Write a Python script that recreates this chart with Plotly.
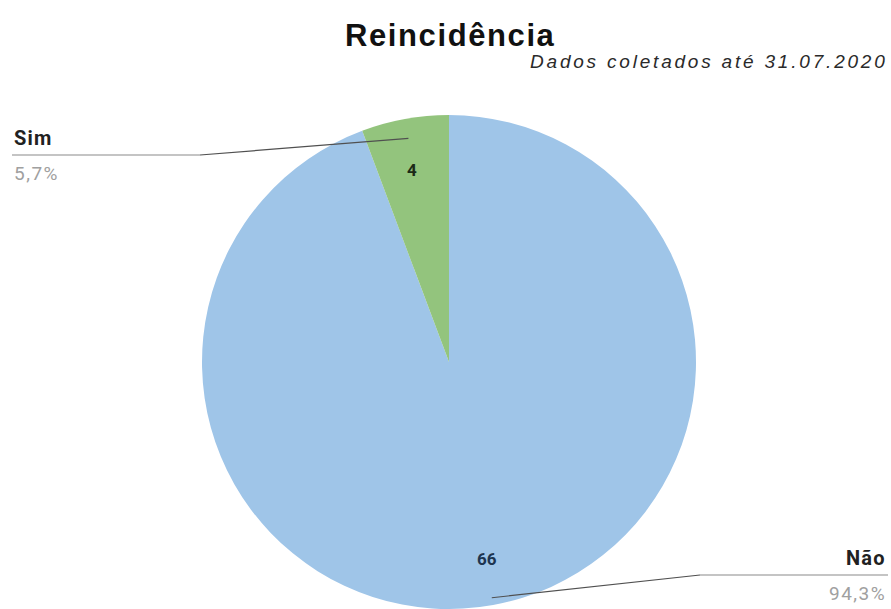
import math
import plotly.graph_objects as go

# Data
labels = ["Não", "Sim"]
values = [66, 4]
colors = ["#9fc5e8", "#93c47d"]
pct_labels = ["94,3%", "5,7%"]
title_text = "Reincidência"
subtitle_text = "Dados coletados até 31.07.2020"

W, H = 891, 609
cx, cy, R = 449, 362, 247  # pie centre and radius (px)


def px(x, y):
    """pixel -> paper coordinates"""
    return x / W, 1 - y / H


def spaced(text, sp):
    return f'<span style="letter-spacing:{sp}px">{text}</span>'


fig = go.Figure(
    go.Pie(
        labels=labels,
        values=values,
        sort=False,
        direction="clockwise",
        rotation=0,
        marker=dict(colors=colors, line=dict(width=0)),
        textinfo="none",
        hoverinfo="label+value+percent",
        domain=dict(x=[(cx - R) / W, (cx + R) / W], y=[1 - (cy + R) / H, 1 - (cy - R) / H]),
        showlegend=False,
    )
)

total = sum(values)
mids = []
acc = 0
for v in values:
    frac = v / total
    mids.append((acc + frac / 2) * 2 * math.pi)
    acc += frac


def on_pie(angle, r):
    return cx + r * math.sin(angle), cy - r * math.cos(angle)


annotations = []
shapes = []

# value labels inside the slices
value_style = {
    "Não": dict(r=0.86, color="#1d3550"),
    "Sim": dict(r=0.84, color="#1c2a17"),
}
for lab, v, a in zip(labels, values, mids):
    st = value_style[lab]
    x, y = on_pie(a, st["r"] * R)
    xp, yp = px(x, y)
    annotations.append(dict(x=xp, y=yp, xref="paper", yref="paper", text=f"<b>{v}</b>", showarrow=False,
                            font=dict(family="Roboto, Arial", size=17, color=st["color"])))

# leader lines and outside labels
leader = {
    "Sim": dict(r=0.92, elbow=(200, 155), end=(12, 155), side="left"),
    "Não": dict(r=0.97, elbow=(700, 575), end=(888, 575), side="right"),
}
for lab, pct, a in zip(labels, pct_labels, mids):
    cfg = leader[lab]
    sx, sy = on_pie(a, cfg["r"] * R)
    p0, p1, p2 = px(sx, sy), px(*cfg["elbow"]), px(*cfg["end"])
    shapes.append(dict(type="line", xref="paper", yref="paper", x0=p0[0], y0=p0[1], x1=p1[0], y1=p1[1],
                       line=dict(color="#505050", width=1.2)))
    shapes.append(dict(type="line", xref="paper", yref="paper", x0=p1[0], y0=p1[1], x1=p2[0], y1=p2[1],
                       line=dict(color="#8a8a8a", width=1.2)))
    ex, ey = cfg["end"]
    anchor = "left" if cfg["side"] == "left" else "right"
    xp, yp_top = px(ex, ey - 3)
    annotations.append(dict(x=xp, y=yp_top, xref="paper", yref="paper",
                            text=spaced(f"<b>{lab}</b>", 1.2),
                            showarrow=False, xanchor=anchor, yanchor="bottom",
                            font=dict(family="Roboto, Arial", size=20, color="#212121")))
    xp, yp_bot = px(ex, ey + 5)
    annotations.append(dict(x=xp, y=yp_bot, xref="paper", yref="paper", text=spaced(pct, 1.5),
                            showarrow=False, xanchor=anchor, yanchor="top",
                            font=dict(family="Roboto, Arial", size=19, color="#a0a0a0")))

# title and subtitle
tx, ty = px(450, 35)
annotations.append(dict(x=tx, y=ty, xref="paper", yref="paper",
                        text=spaced(f"<b>{title_text}</b>", 1.6),
                        showarrow=False, xanchor="center", yanchor="middle",
                        font=dict(family="Liberation Sans, Arial", size=31, color="#111111")))
sx_, sy_ = px(890, 62)
annotations.append(dict(x=sx_, y=sy_, xref="paper", yref="paper",
                        text=spaced(f"<i>{subtitle_text}</i>", 2.8),
                        showarrow=False, xanchor="right", yanchor="middle",
                        font=dict(family="Liberation Sans, Arial", size=19, color="#2a2a2a")))

fig.update_layout(
    width=W,
    height=H,
    margin=dict(l=0, r=0, t=0, b=0),
    paper_bgcolor="white",
    plot_bgcolor="white",
    annotations=annotations,
    shapes=shapes,
)

fig.write_html("out.html")
